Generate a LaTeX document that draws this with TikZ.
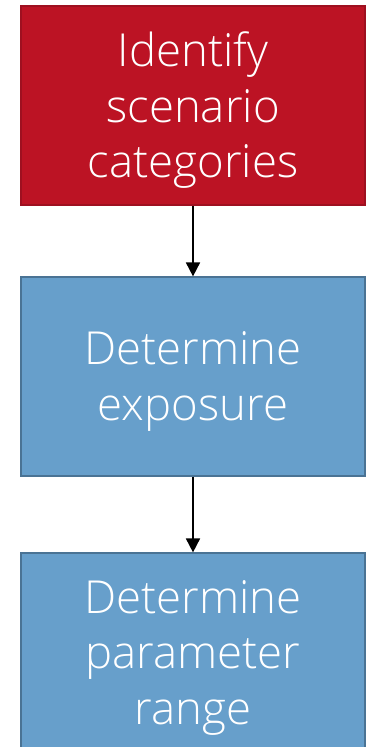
\documentclass[tikz,border=0pt]{standalone}
\usepackage{fontspec}
\setmainfont{Open Sans}[UprightFont=* Light]
\usetikzlibrary{arrows.meta}
\definecolor{redfill}{RGB}{188,19,36}
\definecolor{redline}{RGB}{158,16,32}
\definecolor{bluefill}{RGB}{103,159,203}
\definecolor{blueline}{RGB}{74,115,148}
\tikzset{
  box/.style={minimum width=344pt, minimum height=199pt, line width=1.2pt, inner sep=0pt},
  redbox/.style={box, fill=redfill, draw=redline},
  bluebox/.style={box, fill=bluefill, draw=blueline},
  boxtext/.style={text=white, align=center, inner sep=0pt, font=\fontsize{45.5}{55.5}\selectfont, yshift=-5pt},
  flow/.style={line width=1.8pt, -{Triangle[width=14pt,length=14pt]}}
}
\begin{document}
\begin{tikzpicture}[x=1pt,y=-1pt]
\useasboundingbox (0,0) rectangle (378,747);
\clip (0,0) rectangle (378,747);
\node[redbox] (n1) at (193,105.5) {};
\node[bluebox] (n2) at (193,376.5) {};
\node[bluebox] (n3) at (193,652.5) {};
\node[boxtext] (t1) at (n1.center) {Identify\\scenario\\categories};
\node[boxtext] (t2) at (n2.center) {Determine\\exposure};
\node[boxtext] (t3) at (n3.center) {Determine\\parameter\\range};
\draw[flow] (n1) -- (n2);
\draw[flow] (n2) -- (n3);
\end{tikzpicture}
\end{document}
